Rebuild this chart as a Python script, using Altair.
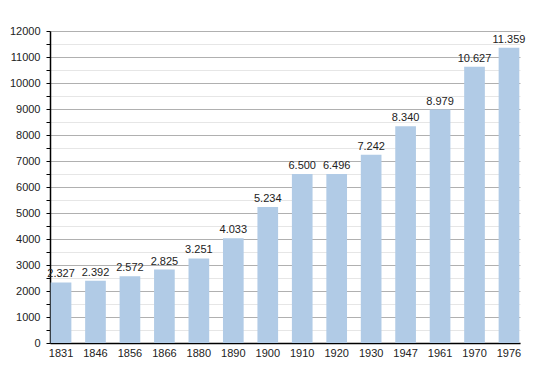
import altair as alt
import pandas as pd

years = ["1831", "1846", "1856", "1866", "1880", "1890", "1900", "1910", "1920", "1930", "1947", "1961", "1970", "1976"]
population = [2327, 2392, 2572, 2825, 3251, 4033, 5234, 6500, 6496, 7242, 8340, 8979, 10627, 11359]
y_ticks = list(range(0, 12001, 500))

df = pd.DataFrame({"year": years, "pop": population})

font = "Liberation Sans"

x = alt.X("year:N", sort=years, title=None,
          scale=alt.Scale(paddingInner=0.4, paddingOuter=0.02),
          axis=alt.Axis(labelAngle=0, ticks=False, domainColor="black", domainWidth=1.5,
                        labelFont=font, labelFontSize=11, labelColor="#222", labelPadding=4))
y = alt.Y("pop:Q", title=None,
          scale=alt.Scale(domain=[0, 12000], nice=False),
          axis=alt.Axis(values=y_ticks,
                        labelExpr="datum.value % 1000 == 0 ? datum.label : ''",
                        labelOverlap=False,
                        format="d",
                        gridColor=alt.condition("datum.value % 1000 == 0", alt.value("#b0b0b0"), alt.value("#e6e6e6")),
                        gridWidth=1,
                        tickColor="black", tickSize=4, domainColor="black", domainWidth=1.5,
                        labelFont=font, labelFontSize=11, labelColor="#222", labelPadding=6))

base = alt.Chart(df).transform_calculate(
    lab="replace(format(datum.pop, ','), ',', '.')"
).encode(x=x, y=y)

bars = base.mark_bar(color="#b1cbe6")
labels = base.mark_text(baseline="alphabetic", dy=-5, font=font, fontSize=11, color="#222").encode(text="lab:N")

chart = alt.layer(bars, labels).properties(
    width=470, height=312,
    autosize=alt.AutoSizeParams(type="none"),
    padding={"left": 42, "top": 23, "right": 20, "bottom": 30},
).configure_view(stroke=None)

chart.save("out.html", embed_options={"renderer": "svg", "actions": False})
